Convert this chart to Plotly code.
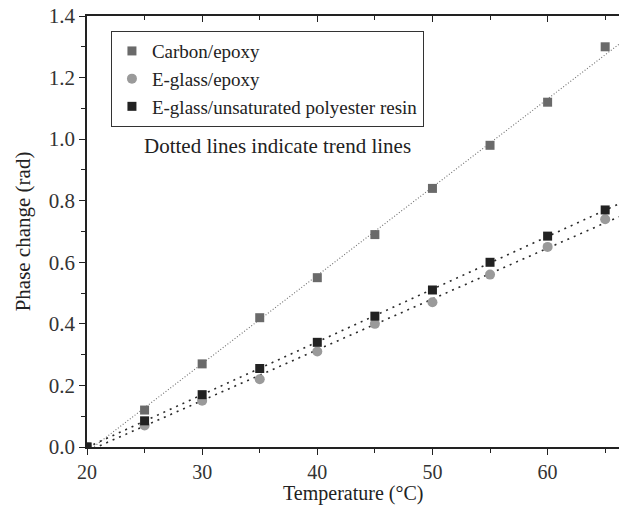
import numpy as np
import plotly.graph_objects as go

temperature = [20, 25, 30, 35, 40, 45, 50, 55, 60, 65]
carbon_epoxy = [0.0, 0.12, 0.27, 0.42, 0.55, 0.69, 0.84, 0.98, 1.12, 1.30]
eglass_epoxy = [0.0, 0.07, 0.15, 0.22, 0.31, 0.40, 0.47, 0.56, 0.65, 0.74]
eglass_upr = [0.0, 0.085, 0.17, 0.255, 0.34, 0.425, 0.51, 0.60, 0.685, 0.77]

x_range = [20, 66.2]
y_ticks = [0.0, 0.2, 0.4, 0.6, 0.8, 1.0, 1.2, 1.4]

font_family = "Liberation Serif"

fig = go.Figure()

series = [
    ("Carbon/epoxy", carbon_epoxy, "#6a6a6a", "square", "#6e6e6e", 1.1, "1px,2px"),
    ("E-glass/epoxy", eglass_epoxy, "#9a9a9a", "circle", "#2a2a2a", 1.6, "2px,5px"),
    ("E-glass/unsaturated polyester resin", eglass_upr, "#222222", "square", "#2a2a2a", 1.6, "2px,5px"),
]

xs = np.array(temperature, dtype=float)
xline = np.linspace(x_range[0], x_range[1], 50)
for name, ys, col, sym, lcol, lw, dash in series:
    k, b = np.polyfit(xs, np.array(ys), 1)
    fig.add_trace(go.Scatter(x=xline, y=k * xline + b, mode="lines",
                             line=dict(color=lcol, width=lw, dash=dash),
                             showlegend=False, hoverinfo="skip"))

for name, ys, col, sym, lcol, lw, dash in series:
    fig.add_trace(go.Scatter(x=temperature, y=ys, mode="markers", name=name,
                             marker=dict(symbol=sym, size=9 if sym == "square" else 10,
                                         color=col, line=dict(width=0))))

fig.add_annotation(text="Dotted lines indicate trend lines", xref="paper", yref="paper",
                   x=0.358, y=0.73, showarrow=False,
                   font=dict(family=font_family, size=21, color="#222222"))

fig.add_annotation(text="Temperature (°C)", xref="paper", yref="paper",
                   x=0.5, y=-0.108, yanchor="middle", showarrow=False,
                   font=dict(family=font_family, size=20, color="#222222"))

fig.update_layout(
    width=619, height=515,
    margin=dict(l=87, r=0, t=16, b=68),
    paper_bgcolor="white", plot_bgcolor="white",
    font=dict(family=font_family, size=19, color="#222222"),
    legend=dict(x=0.045, y=0.965, xanchor="left", yanchor="top",
                bordercolor="#333333", borderwidth=1, bgcolor="white",
                font=dict(family=font_family, size=19, color="#222222"),
                itemwidth=30, tracegroupgap=0),
    xaxis=dict(range=x_range, tickvals=[20, 30, 40, 50, 60], showgrid=False, zeroline=False,
               showline=True, linecolor="#222222", linewidth=1.5,
               ticks="outside", ticklen=6, tickwidth=1.2, tickcolor="#222222",
               tickfont=dict(size=20, color="#333333"),
               minor=dict(tickvals=[25, 35, 45, 55, 65], ticks="outside", ticklen=4,
                          tickcolor="#222222", tickwidth=1.2, showgrid=False)),
    xaxis2=dict(range=x_range, overlaying="x", side="top", showticklabels=False,
                tickvals=[20, 30, 40, 50, 60], showgrid=False, zeroline=False,
                showline=True, linecolor="#222222", linewidth=1.5,
                ticks="inside", ticklen=6, tickwidth=1.2, tickcolor="#222222",
                minor=dict(tickvals=[25, 35, 45, 55, 65], ticks="inside", ticklen=4,
                           tickcolor="#222222", tickwidth=1.2, showgrid=False)),
    yaxis=dict(range=[0, 1.4], tickvals=y_ticks, tickformat=".1f", showgrid=False, zeroline=False,
               showline=True, linecolor="#222222", linewidth=1.5,
               ticks="outside", ticklen=6, tickwidth=1.2, tickcolor="#222222",
               tickfont=dict(size=21, color="#333333"),
               minor=dict(dtick=0.1, ticks="outside", ticklen=4,
                          tickcolor="#222222", tickwidth=1.2, showgrid=False),
               title=dict(text="Phase change (rad)", font=dict(size=21), standoff=12)),
)

fig.add_trace(go.Scatter(x=[None], y=[None], xaxis="x2", showlegend=False, hoverinfo="skip"))

fig.write_html("out.html")
